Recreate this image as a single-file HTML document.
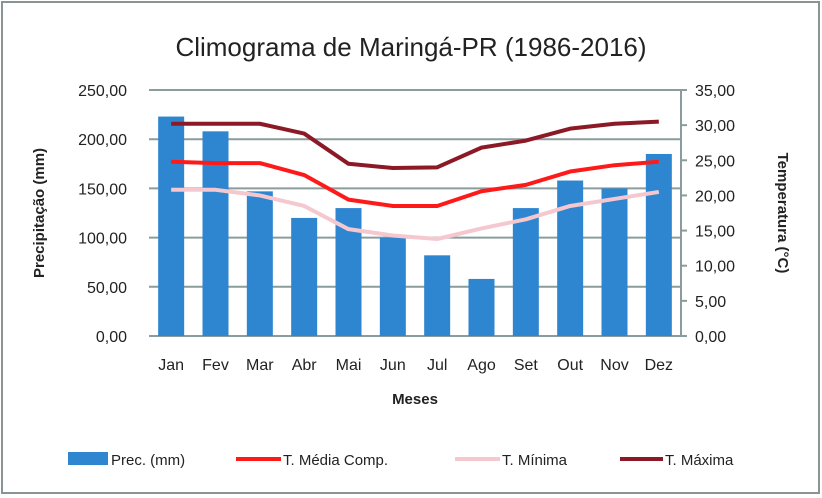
<!DOCTYPE html>
<html><head><meta charset="utf-8"><style>
body{margin:0;background:#fff;}
svg{display:block;font-family:"Liberation Sans",sans-serif;}
</style></head><body>
<svg id="c" width="822" height="498">
<rect x="2" y="2" width="817" height="491" fill="#fff" stroke="#8a9494" stroke-width="2"/>
<text x="411" y="56" text-anchor="middle" font-size="26" fill="#222">Climograma de Maringá-PR (1986-2016)</text>
<g id="grid"></g><g id="bars"></g><g id="lines"></g><g id="axes"></g>
<text transform="translate(44,213) rotate(-90)" text-anchor="middle" font-size="15" font-weight="bold" fill="#222">Precipitação (mm)</text>
<text transform="translate(778,213) rotate(90)" text-anchor="middle" font-size="15" font-weight="bold" fill="#222">Temperatura (°C)</text>
<text x="415" y="404" text-anchor="middle" font-size="15" font-weight="bold" fill="#222">Meses</text>
<g font-size="15" fill="#222">
<g><rect x="68" y="452" width="40" height="13" fill="#2f86d0"/><text x="111" y="465">Prec. (mm)</text></g>
<g><line x1="236" y1="459" x2="281" y2="459" stroke="#ff1a1a" stroke-width="4"/><text x="283" y="465">T. Média Comp.</text></g>
<g><line x1="455" y1="459" x2="500" y2="459" stroke="#f5c8d0" stroke-width="4"/><text x="502" y="465">T. Mínima</text></g>
<g><line x1="620" y1="459" x2="663" y2="459" stroke="#8b1a26" stroke-width="4"/><text x="665" y="465">T. Máxima</text></g>
</g>
</svg>
<script>
const categories=["Jan","Fev","Mar","Abr","Mai","Jun","Jul","Ago","Set","Out","Nov","Dez"];
const precValues=[223,208,147,120,130,100,82,58,130,158,150,185];
const tMaxValues=[30.2,30.2,30.2,28.8,24.5,23.9,24.0,26.8,27.8,29.5,30.2,30.5];
const tMediaValues=[24.8,24.6,24.6,22.9,19.4,18.5,18.5,20.6,21.5,23.4,24.3,24.8];
const tMinValues=[20.8,20.8,20.0,18.5,15.2,14.3,13.8,15.3,16.6,18.5,19.5,20.5];
const leftTicks=[0,50,100,150,200,250];
const rightTicks=[0,5,10,15,20,25,30,35];
const NS="http://www.w3.org/2000/svg";
const X0=149,X1=681,Y0=336,Y1=90;
const bw=(X1-X0)/categories.length;
const xc=i=>X0+bw*(i+0.5);
const yL=v=>Y0-(v/250)*(Y0-Y1);
const yR=v=>Y0-(v/35)*(Y0-Y1);
const fmt=v=>v.toFixed(2).replace('.',',');
function mk(t,a,p){const e=document.createElementNS(NS,t);for(const k in a)e.setAttribute(k,a[k]);p.appendChild(e);return e;}
const grid=document.getElementById('grid'),bars=document.getElementById('bars'),lines=document.getElementById('lines'),axes=document.getElementById('axes');
leftTicks.forEach(v=>{
 const l=mk('line',{x1:X0,x2:X1,y1:yL(v),y2:yL(v),stroke:'#8a9c9c','stroke-width':2},grid);
 
 
 const t=mk('text',{x:X0-22,y:yL(v)+6,'text-anchor':'end','font-size':16,fill:'#222'},axes);
 t.textContent=fmt(v);
 
 
});
mk('line',{x1:X1,x2:X1,y1:Y1,y2:Y0,stroke:'#8a9c9c','stroke-width':2},axes);
rightTicks.forEach(v=>{
 mk('line',{x1:X1,x2:X1+6,y1:yR(v),y2:yR(v),stroke:'#8a9c9c','stroke-width':2},axes);
 const t=mk('text',{x:X1+14,y:yR(v)+6,'font-size':16,fill:'#222'},axes);
 t.textContent=fmt(v);
 
 
});
categories.forEach((c,i)=>{
 const b=mk('rect',{x:xc(i)-13,y:yL(precValues[i]),width:26,height:Y0-yL(precValues[i]),fill:'#2f86d0'},bars);
 
 
 const t=mk('text',{x:xc(i),y:370,'text-anchor':'middle','font-size':16,fill:'#222'},axes);
 t.textContent=c;
 
 
});
function line(vals,col,name){
 const p=mk('polyline',{points:vals.map((v,i)=>xc(i)+','+yR(v)).join(' '),fill:'none',stroke:col,'stroke-width':4,'stroke-linejoin':'round'},lines);
 
 
}
line(tMinValues,'#f5c8d0','line-t-minima');
line(tMaxValues,'#8b1a26','line-t-maxima');
line(tMediaValues,'#ff1a1a','line-t-media');
</script>
</body></html>
